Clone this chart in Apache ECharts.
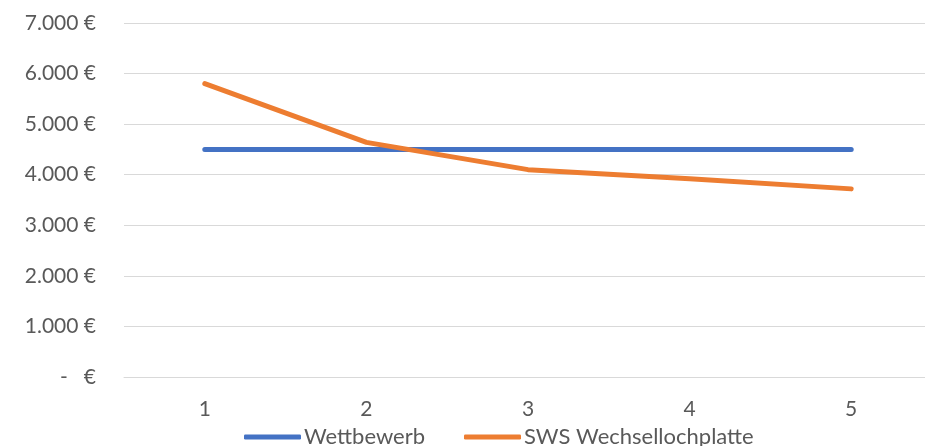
<!DOCTYPE html>
<html><head><meta charset="utf-8">
<script src="https://cdn.jsdelivr.net/npm/echarts@6/dist/echarts.min.js"></script>
<style>html,body{margin:0;padding:0;background:#fff;overflow:hidden}#c{width:940px;height:446px}</style>
</head><body><div id="c"></div>
<script>
const categories = ['1','2','3','4','5'];
const wettbewerb = [4500, 4500, 4500, 4500, 4500];
const sws = [5800, 4640, 4100, 3920, 3720];
const seriesNames = ['Wettbewerb', 'SWS Wechsellochplatte'];

const font = 'Lato, "Open Sans", sans-serif';
const chart = echarts.init(document.getElementById('c'));
chart.setOption({
  animation: false,
  grid: { left: 124, top: 23, width: 808, height: 354 },
  legend: {
    data: seriesNames, left: 239, top: 421, itemWidth: 57, itemHeight: 5, itemGap: 39,
    icon: 'roundRect',
    textStyle: { color: '#595959', fontSize: 22, fontFamily: font, padding: [0,0,0,-2] }
  },
  xAxis: {
    type: 'category', data: categories, boundaryGap: true,
    axisLine: { show: true, lineStyle: { color: '#D9D9D9', width: 1 } },
    axisTick: { show: false },
    axisLabel: { color: '#595959', fontSize: 21, fontFamily: font, margin: 22 }
  },
  yAxis: {
    type: 'value', min: 0, max: 7000, interval: 1000,
    axisLine: { show: false }, axisTick: { show: false },
    splitLine: { lineStyle: { color: '#D9D9D9', width: 1 } },
    axisLabel: {
      color: '#595959', fontSize: 21, fontFamily: font, margin: 28,
      formatter: v => v === 0 ? '-   €' : (v/1000).toFixed(0) + '.000 €'
    }
  },
  series: [
    { name: seriesNames[0], type: 'line', data: wettbewerb, showSymbol: false, symbol: 'none',
      lineStyle: { color: '#4472C4', width: 5, cap: 'round', join: 'round' }, itemStyle: { color: '#4472C4' } },
    { name: seriesNames[1], type: 'line', data: sws, showSymbol: false, symbol: 'none',
      lineStyle: { color: '#ED7D31', width: 5, cap: 'round', join: 'round' }, itemStyle: { color: '#ED7D31' } }
  ]
});
</script></body></html>
